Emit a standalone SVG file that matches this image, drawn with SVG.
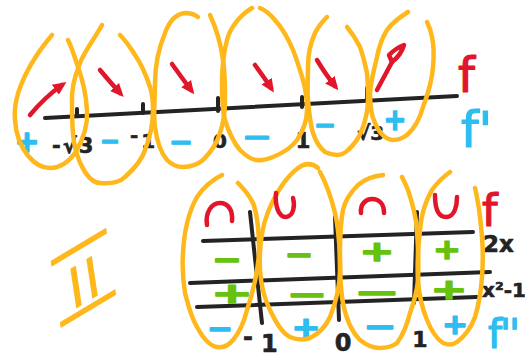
<svg xmlns="http://www.w3.org/2000/svg" width="525" height="360" viewBox="0 0 525 360">
<defs>
<style>
.ln{fill:none;stroke:#232323;stroke-width:4;stroke-linecap:round;stroke-linejoin:round}
.lp{fill:none;stroke:#FFB81C;stroke-width:4.5;stroke-linecap:round;stroke-linejoin:round}
.rd{fill:none;stroke:#E2162A;stroke-width:4.5;stroke-linecap:round;stroke-linejoin:round}
.sg{font-family:"DejaVu Sans",sans-serif;font-weight:bold;text-anchor:middle;stroke-width:1.4;stroke-linejoin:round;font-size:28px}
.g{fill:#66C20F;stroke:#66C20F}
.b{fill:#2DBDF0;stroke:#2DBDF0}
.k{fill:#232323;stroke:#232323}
.lb{font-family:"DejaVu Sans",sans-serif;font-weight:bold;stroke-width:0.6;stroke-linejoin:round}
.fl{font-family:"DejaVu Sans",sans-serif;font-weight:normal;stroke-width:1.2;stroke-linejoin:round}
.r{fill:#E2162A;stroke:#E2162A}
</style>
<marker id="head" viewBox="0 0 10 10" refX="6" refY="5" markerWidth="3" markerHeight="3" orient="auto" markerUnits="strokeWidth">
<path d="M0,0.5 L10,5 L0,9.5 z" fill="#E2162A"/>
</marker>
</defs>
<rect width="525" height="360" fill="#ffffff"/>

<!-- top sign chart -->
<g id="top-axis">
<path class="ln" d="M45,118 C150,112 300,104 457,96"/>
<path class="ln" d="M77,109 L77,116 M143,104 L143,113 M218,98 L218,111 M302,97 L302,107 M367,88 L367,100"/>
</g>
<g id="top-labels">
<text class="lb k" x="52" y="153" font-size="21" letter-spacing="2">-√3</text>
<text class="lb k" x="130" y="142" font-size="20">-<tspan dx="3" dy="6">1</tspan></text>
<text class="lb k" x="220" y="148" font-size="20" text-anchor="middle">0</text>
<text class="lb k" x="303" y="148" font-size="21" text-anchor="middle">1</text>
<text class="lb k" x="357" y="140" font-size="20">√3</text>
</g>
<g id="top-fprime-signs">
<text class="sg b" x="27" y="152" style="font-size:30px" textLength="25" lengthAdjust="spacingAndGlyphs">+</text>
<text class="sg b" x="110" y="150" style="font-size:26px" textLength="20" lengthAdjust="spacingAndGlyphs">−</text>
<text class="sg b" x="181" y="151" style="font-size:26px" textLength="24" lengthAdjust="spacingAndGlyphs">−</text>
<text class="sg b" x="257" y="146" style="font-size:26px" textLength="30" lengthAdjust="spacingAndGlyphs">−</text>
<text class="sg b" x="325" y="134" style="font-size:26px" textLength="22" lengthAdjust="spacingAndGlyphs">−</text>
<text class="sg b" x="395" y="130" style="font-size:30px" textLength="23" lengthAdjust="spacingAndGlyphs">+</text>
</g>
<g id="top-loops">
<path class="lp" d="M52,35 C35,55 12,90 15,120 C17,150 35,168 50,168 C62,168 70,160 75,153 C83,140 88,125 87,110 C86,95 82,78 78,67 C75,58 72,48 68,40"/>
<path class="lp" d="M102,25 C95,38 85,50 80,63 C74,78 71,90 72,103 C72,120 72,135 75,147 C80,168 90,183 100,183 C112,184 120,182 125,177 C135,168 142,160 145,150 C151,135 153,122 153,110 C153,100 152,93 150,87 C146,75 142,65 135,55 C130,47 125,40 120,35"/>
<path class="lp" d="M198,17 C194,14 190,13 185,13 C176,14 169,22 165,33 C158,50 155,66 155,83 C155,100 153,115 155,127 C157,142 161,153 167,160 C172,165 178,167 183,167 C191,167 197,165 203,160 C211,152 217,143 220,133 C224,122 225,111 225,100 C225,85 225,72 223,60 C221,45 216,28 210,15"/>
<path class="lp" d="M252,8 C240,15 230,28 227,40 C223,55 222,70 222,83 C222,97 222,110 225,120 C229,133 234,143 240,150 C246,156 251,160 257,160 C263,161 268,159 273,157 C283,153 291,148 297,140 C303,131 307,121 307,110 C307,100 306,90 303,80 C300,70 297,60 293,50 C288,38 282,28 275,20 C270,14 265,10 260,8"/>
<path class="lp" d="M327,17 C322,22 318,27 315,33 C310,44 308,55 308,67 C308,78 307,89 308,100 C309,112 310,123 313,133 C316,142 320,148 325,152 C329,154 333,155 337,155 C341,155 345,153 348,150 C355,144 360,136 363,127 C366,118 368,109 368,100 C368,91 368,82 367,73 C365,64 363,55 360,47 C356,39 352,33 347,27"/>
<path class="lp" d="M408,12 C400,17 392,23 387,30 C382,38 379,47 377,57 C374,69 371,81 370,93 C370,104 371,115 375,123 C378,130 381,134 385,137 C388,139 390,140 393,140 C398,140 403,138 407,135 C415,128 420,118 423,107 C428,94 432,80 433,67 C434,56 434,46 432,37 C431,31 429,26 427,22"/>
</g>
<g id="top-arrows">
<path class="rd" d="M30,115 Q45,97 62,85" marker-end="url(#head)"/>
<path class="rd" d="M100,70 Q110,82 120,93" marker-end="url(#head)"/>
<path class="rd" d="M172,64 Q182,78 191,90" marker-end="url(#head)"/>
<path class="rd" d="M255,65 Q264,77 271,88" marker-end="url(#head)"/>
<path class="rd" d="M317,60 Q326,75 335,86" marker-end="url(#head)"/>
<path class="rd" d="M377,90 L392,62"/>
<path class="rd" d="M392,62 L389,55 Q396,48 404,45 Q401,55 392,62 Z" fill="#ffffff"/>
</g>
<g id="top-row-names">
<text class="fl r" x="458" y="92" font-size="48">f</text>
<text class="fl b" x="461" y="147" font-size="50">f'</text>
</g>

<!-- numeral -->
<g id="numeral">
<text x="0" y="0" font-family="'Liberation Sans',sans-serif" font-size="58" text-anchor="middle" fill="#FFB81C" text-decoration="underline overline" transform="matrix(1,-0.6,0.15,1,87,302)">&#8201;II&#8201;</text>
</g>

<!-- bottom table -->
<g id="bottom-grid">
<path class="ln" d="M203,241 L473,232 M190,283 L490,272 M197,307 L477,297"/>
<path class="ln" d="M250,212 L262,323 M335,217 L339,320 M417,212 L414,303"/>
</g>
<g id="bottom-labels">
<text class="lb k" x="243" y="345" font-size="24">-<tspan dx="8" dy="7">1</tspan></text>
<text class="lb k" x="343" y="351" font-size="24" text-anchor="middle">0</text>
<text class="lb k" x="420" y="347" font-size="22" text-anchor="middle">1</text>
<text class="lb k" x="483" y="252" font-size="23">2x</text>
<text class="lb k" x="482" y="297" font-size="20">x²-1</text>
</g>
<g id="row-2x">
<text class="sg g" x="227" y="269" textLength="30" lengthAdjust="spacingAndGlyphs">−</text>
<text class="sg g" x="299" y="264" textLength="29" lengthAdjust="spacingAndGlyphs">−</text>
<text class="sg g" x="377" y="261" textLength="35" lengthAdjust="spacingAndGlyphs">+</text>
<text class="sg g" x="447" y="259" textLength="28" lengthAdjust="spacingAndGlyphs">+</text>
</g>
<g id="row-x2-1">
<text class="sg g" x="232" y="303" textLength="42" lengthAdjust="spacingAndGlyphs">+</text>
<text class="sg g" x="307" y="304" textLength="41" lengthAdjust="spacingAndGlyphs">−</text>
<text class="sg g" x="377" y="302" textLength="46" lengthAdjust="spacingAndGlyphs">−</text>
<text class="sg g" x="449" y="299" textLength="37" lengthAdjust="spacingAndGlyphs">+</text>
</g>
<g id="row-f2">
<text class="sg b" x="220" y="338" textLength="26" lengthAdjust="spacingAndGlyphs">−</text>
<text class="sg b" x="306" y="337" textLength="29" lengthAdjust="spacingAndGlyphs">+</text>
<text class="sg b" x="380" y="336" textLength="33" lengthAdjust="spacingAndGlyphs">−</text>
<text class="sg b" x="455" y="334" textLength="26" lengthAdjust="spacingAndGlyphs">+</text>
</g>
<g id="bottom-loops">
<path class="lp" d="M222,175 C212,180 203,188 197,197 C188,213 184,233 183,253 C182,267 183,280 185,293 C188,305 191,317 197,327 C203,338 210,346 217,347 C224,348 229,345 233,340 C240,332 244,322 247,310 C252,295 256,280 258,263 C260,250 259,238 258,227 C257,218 256,210 253,203 C249,195 244,189 238,183"/>
<path class="lp" d="M318,168 C312,163 305,163 298,168 C285,178 275,195 268,212 C261,230 259,250 260,270 C261,285 264,298 270,310 C276,323 282,333 290,337 C297,340 304,340 310,338 C320,333 326,326 330,317 C336,302 340,286 340,270 C340,250 339,230 335,213 C331,197 326,183 320,172"/>
<path class="lp" d="M383,175 C373,176 365,179 358,185 C350,193 345,200 343,210 C340,225 340,240 340,253 C340,270 340,288 343,303 C346,318 352,332 360,340 C366,345 373,348 380,348 C387,348 393,346 397,343 C403,335 407,325 410,313 C414,302 417,291 418,280 C419,263 418,246 417,230 C416,215 412,202 408,190 C406,185 404,181 402,177"/>
<path class="lp" d="M450,172 C443,177 437,183 432,190 C425,202 421,216 420,230 C418,247 417,264 418,280 C419,295 422,308 427,320 C431,330 437,339 443,343 C448,345 453,345 457,342 C465,336 471,328 475,317 C479,304 481,291 482,277 C483,264 483,250 482,237 C481,225 480,214 478,203 C477,197 476,192 475,188"/>
</g>
<g id="concavity">
<path class="rd" d="M207,225 C205,212 212,203 220,203 C228,203 233,210 232,221"/>
<path class="rd" d="M276,193 C275,205 278,217 286,217 C294,216 295,205 293,198"/>
<path class="rd" d="M361,213 C360,204 366,199 372,199 C380,199 384,205 384,213"/>
<path class="rd" d="M435,195 C435,207 438,217 446,217 C455,217 457,205 457,197"/>
</g>
<g id="bottom-row-names">
<text class="fl r" x="482" y="226" font-size="44">f</text>
<text class="fl b" x="488" y="348" font-size="40" letter-spacing="-2">f''</text>
</g>
</svg>
